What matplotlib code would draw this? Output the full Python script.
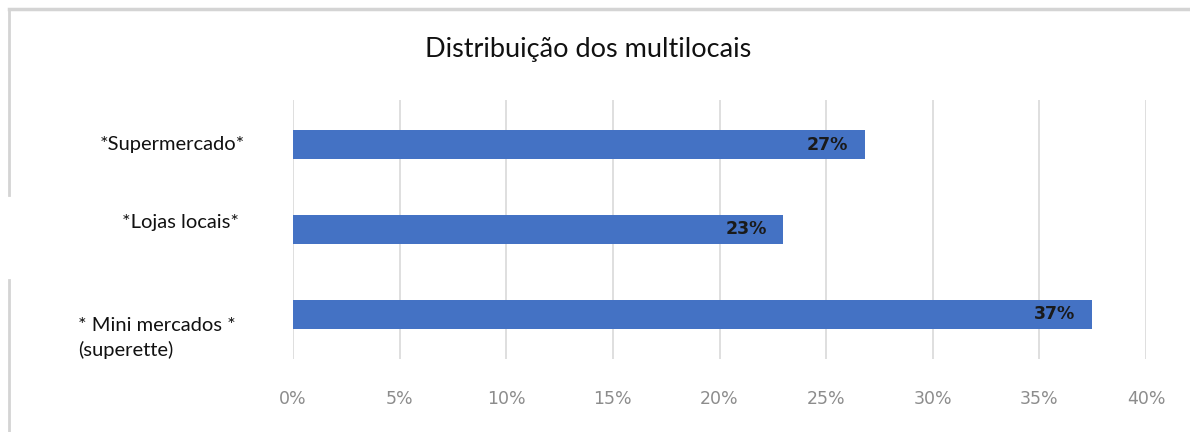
import matplotlib.pyplot as plt
import matplotlib.transforms as mtransforms
from matplotlib.lines import Line2D
from matplotlib.ticker import FuncFormatter

categorias = ['*Supermercado*', '*Lojas locais*', '* Mini mercados *\n(superette)']
valores = [26.8, 23.0, 37.45]
rotulos = ['27%', '23%', '37%']
ticks = [0, 5, 10, 15, 20, 25, 30, 35, 40]

plt.rcParams['font.family'] = ['Lato', 'DejaVu Sans']

fig = plt.figure(figsize=(11.9, 4.32), dpi=100)
ax = fig.add_axes([293 / 1190, 1 - 359 / 432, (1146 - 293) / 1190, 259 / 432])

pos = list(range(len(categorias)))
ax.barh(pos, valores, height=0.34, color='#4472C4', zorder=3)
ax.set_xlim(0, 40)
ax.set_ylim(2.524, -0.524)
ax.set_xticks(ticks)
ax.xaxis.set_major_formatter(FuncFormatter(lambda v, p: f'{v:.0f}%'))
ax.tick_params(axis='x', length=0, pad=22, labelsize=12.5, labelcolor='#8c8c8c')
for lb in ax.get_xticklabels():
    lb.set_family('DejaVu Sans')
ax.set_yticks([])
ax.grid(axis='x', color='#d9d9d9', linewidth=1.2, zorder=0)
for s in ax.spines.values():
    s.set_visible(False)

# rótulos de dados dentro da barra
for i, (v, r) in enumerate(zip(valores, rotulos)):
    ax.annotate(r, (v, i), xytext=(-12, 0), textcoords='offset points',
                ha='right', va='center', fontsize=12.5, fontweight='bold',
                family='DejaVu Sans', color='#1a1a1a', zorder=4)

# categorias posicionadas como caixas de texto
tr = mtransforms.blended_transform_factory(fig.transFigure, ax.transData)
ax.text(172 / 1190, 0, categorias[0], transform=tr, ha='center', va='center',
        fontsize=14.5, color='#111111')
ax.text(181 / 1190, 0.92, categorias[1], transform=tr, ha='center', va='center',
        fontsize=14.5, color='#111111')
ax.text(78 / 1190, 2.28, categorias[2], transform=tr, ha='left', va='center',
        fontsize=14.5, color='#111111', linespacing=1.45)

fig.text(588 / 1190, 1 - 49 / 432, 'Distribuição dos multilocais', ha='center',
         va='center', fontsize=19.5, color='#111111')

# moldura do gráfico
borda = '#d4d4d4'
fig.add_artist(Line2D([9 / 1190, 1], [1 - 9 / 432, 1 - 9 / 432], color=borda, lw=2.5,
                      transform=fig.transFigure))
fig.add_artist(Line2D([9 / 1190, 9 / 1190], [1 - 9 / 432, 1 - 195 / 432], color=borda,
                      lw=2, transform=fig.transFigure))
fig.add_artist(Line2D([9 / 1190, 9 / 1190], [1 - 280 / 432, 0], color=borda,
                      lw=2, transform=fig.transFigure))

fig.savefig('out.png', dpi=100)
